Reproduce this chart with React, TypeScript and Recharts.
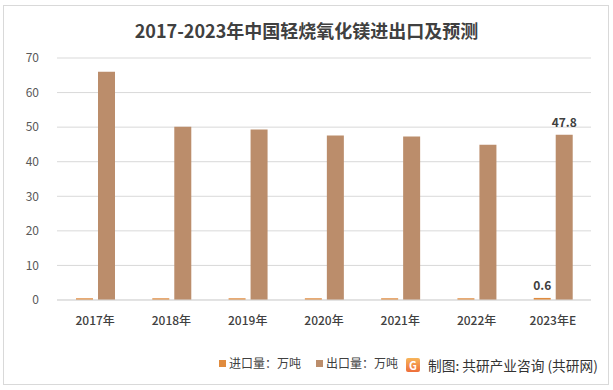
import React from "react"
import { BarChart, Bar, XAxis, YAxis, CartesianGrid, LabelList } from "recharts"

const years = ["2017年", "2018年", "2019年", "2020年", "2021年", "2022年", "2023年E"]
const importVol = [0.5, 0.5, 0.5, 0.5, 0.5, 0.5, 0.6]
const exportVol = [66.0, 50.1, 49.3, 47.6, 47.3, 44.9, 47.8]
const yTicks = [0, 10, 20, 30, 40, 50, 60, 70]

const chartData = years.map((year, i) => ({
  year,
  importVol: importVol[i],
  exportVol: exportVol[i],
}))

const FONT = "'Noto Sans CJK SC', 'Noto Sans', sans-serif"
const IMPORT_COLOR = "#E08B3E"
const EXPORT_COLOR = "#BB8D6B"

// only the forecast year gets a value label
const lastLabel = (props: any) => {
  const { x, y, width, value, index } = props
  if (index !== years.length - 1) return null
  return (
    <text
      x={x + width / 2}
      y={y - 8}
      textAnchor="middle"
      fill="#404040"
      fontSize={12}
      fontWeight="bold"
      fontFamily={FONT}
    >
      {value}
    </text>
  )
}

export default function App() {
  return (
    <div style={{ position: "fixed", left: 0, top: 0, width: 613, height: 390, background: "#fff", fontFamily: FONT }}>
      <div
        style={{
          position: "absolute",
          left: 3,
          top: 5,
          width: 604,
          height: 378,
          border: "1px solid #d9d9d9",
        }}
      />
      <div
        style={{
          position: "absolute",
          left: 0,
          width: 613,
          top: 17,
          textAlign: "center",
          fontSize: 18,
          fontWeight: "bold",
          color: "#404040",
          lineHeight: "26px",
        }}
      >
        2017-2023年中国轻烧氧化镁进出口及预测
      </div>
      <BarChart
        width={613}
        height={390}
        data={chartData}
        margin={{ top: 58, right: 22, bottom: 60, left: 0 }}
        barGap={5}
        barCategoryGap={18}
        style={{ position: "absolute", left: 0, top: 0 }}
      >
        <CartesianGrid vertical={false} stroke="#d9d9d9" />
        <XAxis
          dataKey="year"
          axisLine={{ stroke: "#d9d9d9" }}
          tickLine={false}
          height={30}
          tick={{ fill: "#404040", fontSize: 12, fontFamily: FONT, fontWeight: 500 }}
          tickMargin={10}
        />
        <YAxis
          width={57}
          domain={[0, 70]}
          ticks={yTicks}
          axisLine={false}
          tickLine={false}
          tick={{ fill: "#595959", fontSize: 12, fontFamily: FONT }}
          tickMargin={12}
        />
        <Bar dataKey="importVol" fill={IMPORT_COLOR} barSize={17} isAnimationActive={false}>
          <LabelList dataKey="importVol" content={lastLabel} />
        </Bar>
        <Bar dataKey="exportVol" fill={EXPORT_COLOR} barSize={17} isAnimationActive={false}>
          <LabelList dataKey="exportVol" content={lastLabel} />
        </Bar>
      </BarChart>
      <div
        style={{
          position: "absolute",
          left: 219,
          top: 355,
          display: "flex",
          alignItems: "center",
          fontSize: 12,
          color: "#404040",
          lineHeight: "16px",
        }}
      >
        <span style={{ width: 7, height: 7, background: IMPORT_COLOR, marginRight: 3 }} />
        <span style={{ marginRight: 15 }}>进口量：万吨</span>
        <span style={{ width: 7, height: 7, background: EXPORT_COLOR, marginRight: 3 }} />
        <span>出口量：万吨</span>
      </div>
      <div
        style={{
          position: "absolute",
          left: 406,
          top: 356,
          display: "flex",
          alignItems: "center",
          fontSize: 13.7,
          color: "#333",
          lineHeight: "18px",
        }}
      >
        <span
          style={{
            width: 14,
            height: 14,
            marginRight: 8,
            borderRadius: 2,
            background: "linear-gradient(180deg, #F7B55A, #EE6E3A)",
            color: "#fff",
            fontSize: 11,
            fontWeight: "bold",
            lineHeight: "14px",
            textAlign: "center",
          }}
        >
          G
        </span>
        <span>制图: 共研产业咨询 (共研网)</span>
      </div>
    </div>
  )
}
